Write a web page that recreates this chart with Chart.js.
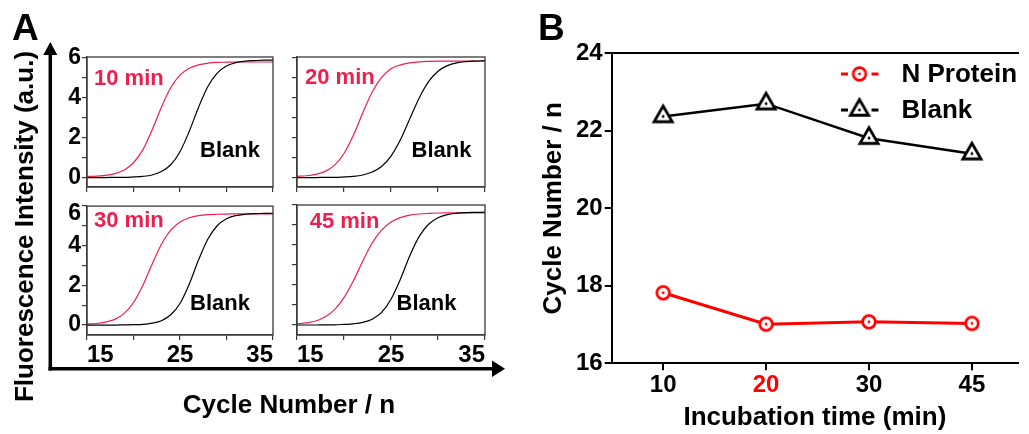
<!DOCTYPE html>
<html><head><meta charset="utf-8">
<script src="https://cdn.jsdelivr.net/npm/chart.js@4"></script>
<style>
html,body{margin:0;padding:0;background:#fff;overflow:hidden;width:1029px;height:434px;}
canvas{position:absolute;}
svg{position:absolute;left:0;top:0;}
svg text{font-family:'Liberation Sans',Arial,Helvetica,sans-serif;font-weight:bold;}
</style></head><body>
<canvas id="a1"></canvas>
<canvas id="a2"></canvas>
<canvas id="a3"></canvas>
<canvas id="a4"></canvas>
<canvas id="b"></canvas>
<svg width="1029" height="434" viewBox="0 0 1029 434">
  <line x1="50.3" y1="370.4" x2="50.3" y2="52" stroke="#000" stroke-width="3.5"/>
  <polygon points="50.3,42 43.3,55 57.3,55" fill="#000"/>
  <line x1="48.5" y1="368.7" x2="494" y2="368.7" stroke="#000" stroke-width="3.5"/>
  <polygon points="505,368.7 492,360.5 492,376.9" fill="#000"/>
  <text x="12" y="40" font-size="37">A</text>
  <text x="538" y="40" font-size="37">B</text>
  <text transform="translate(33.3,226.5) rotate(-90)" text-anchor="middle" font-size="26">Fluorescence Intensity (a.u.)</text>
  <text x="289" y="413" text-anchor="middle" font-size="26">Cycle Number / n</text>
  <text x="94" y="85" font-size="22" fill="#ee1f4f">10 min</text>
  <text x="200" y="157.3" font-size="22" fill="#000">Blank</text>
  <text x="305" y="84.3" font-size="22" fill="#ee1f4f">20 min</text>
  <text x="411.5" y="157.3" font-size="22" fill="#000">Blank</text>
  <text x="94" y="227" font-size="22" fill="#ee1f4f">30 min</text>
  <text x="190" y="309.7" font-size="22" fill="#000">Blank</text>
  <text x="309.7" y="228" font-size="22" fill="#ee1f4f">45 min</text>
  <text x="396.5" y="309.7" font-size="22" fill="#000">Blank</text>
</svg>
<script>
// ---------- Panel A data (fluorescence vs cycle) ----------
const cycles = [15,16,17,18,19,20,21,22,23,24,25,26,27,28,29,30,31,32,33,34,35];
const red10   = [0.05,0.07,0.11,0.20,0.38,0.74,1.38,2.37,3.51,4.48,5.11,5.45,5.62,5.70,5.74,5.75,5.76,5.76,5.76,5.76,5.76];
const blank10 = [0.00,0.00,0.00,0.01,0.01,0.03,0.06,0.13,0.30,0.64,1.29,2.31,3.51,4.54,5.21,5.56,5.73,5.80,5.83,5.85,5.85];
const red20   = [0.06,0.09,0.16,0.31,0.62,1.20,2.11,3.23,4.27,5.00,5.43,5.62,5.72,5.77,5.79,5.80,5.80,5.80,5.80,5.80,5.80];
const blank20 = [0.00,0.00,0.00,0.01,0.01,0.03,0.06,0.13,0.28,0.55,1.07,1.88,2.93,3.97,4.78,5.30,5.58,5.72,5.78,5.81,5.83];
const red30   = [0.05,0.08,0.15,0.29,0.59,1.14,2.00,3.07,4.08,4.79,5.20,5.41,5.52,5.57,5.59,5.60,5.61,5.61,5.61,5.61,5.61];
const blank30 = [0.00,0.00,0.00,0.00,0.01,0.02,0.04,0.10,0.22,0.52,1.09,2.07,3.29,4.34,5.01,5.36,5.52,5.59,5.62,5.63,5.64];
const red45   = [0.06,0.11,0.20,0.41,0.77,1.37,2.21,3.20,4.10,4.74,5.15,5.37,5.49,5.55,5.58,5.60,5.61,5.61,5.61,5.61,5.61];
const blank45 = [0.00,0.00,0.00,0.01,0.01,0.03,0.06,0.13,0.29,0.63,1.29,2.29,3.46,4.43,5.04,5.36,5.52,5.59,5.62,5.63,5.64];
const aYTicks = [0,1,2,3,4,5,6];
const aYTickLabels = ['0','2','4','6'];
const aXTicks = [15,20,25,30,35];
const aXTickLabels = ['15','25','35'];

// ---------- Panel B data ----------
const incubation = ['10','20','30','45'];
const nProtein = [17.82, 17.01, 17.07, 17.03];
const blankB   = [22.37, 22.70, 21.81, 21.41];
const bYTicks  = [16,18,20,22,24];

Chart.defaults.font.family = "'Liberation Sans', Arial, Helvetica, sans-serif";
Chart.defaults.font.weight = 'bold';
Chart.defaults.color = '#000';

const RED_A = '#ee1f4f';
const FRAME = '#3a3a3a';

const framePlugin = {
  id: 'frame',
  afterDraw(chart) {
    const {ctx, chartArea: a} = chart;
    ctx.save();
    ctx.strokeStyle = FRAME;
    ctx.lineWidth = 1.3;
    ctx.strokeRect(a.left, a.top, a.right - a.left, a.bottom - a.top);
    ctx.restore();
  }
};

function sub(id, rect, redVals, blankVals, showX, showY, yMin, yMax, lowTop) {
  const PL = 45, PT = 16, PR = 16, PB = 30;
  const cv = document.getElementById(id);
  const W = rect.r - rect.l + PL + PR, H = rect.b - rect.t + PT + PB;
  cv.width = W; cv.height = H;
  cv.style.left = (rect.l - PL) + 'px';
  cv.style.top = (rect.t - PT) + 'px';
  new Chart(cv, {
    type: 'line',
    data: {
      datasets: [
        {data: cycles.map((c, i) => ({x: c, y: blankVals[i]})), borderColor: '#000', borderWidth: 1.2, pointRadius: 0, cubicInterpolationMode: 'monotone'},
        {data: cycles.map((c, i) => ({x: c, y: redVals[i]})), borderColor: RED_A, borderWidth: 1.2, pointRadius: 0, cubicInterpolationMode: 'monotone'}
      ]
    },
    options: {
      responsive: false, animation: false, events: [],
      layout: {padding: {left: 0, top: PT, right: PR, bottom: 0}},
      plugins: {legend: {display: false}, tooltip: {enabled: false}},
      scales: {
        x: {
          type: 'linear', min: 15, max: 35,
          afterBuildTicks: s => { s.ticks = aXTicks.map(v => ({value: v})); },
          afterFit: s => { s.height = PB; },
          ticks: {autoSkip: false, maxRotation: 0, padding: 1, align: 'inner', font: {size: 24, weight: 'bold'}, color: '#000',
                  callback: v => (showX && aXTickLabels.includes(String(v))) ? String(v) : ''},
          grid: {drawOnChartArea: false, tickLength: 5, color: FRAME, lineWidth: 1.2},
          border: {color: FRAME, width: 1.3}
        },
        y: {
          type: 'linear', min: yMin, max: yMax,
          afterBuildTicks: s => { s.ticks = aYTicks.map(v => ({value: v})); },
          afterFit: s => { s.width = PL; },
          ticks: {autoSkip: false, padding: 1, font: {size: 23, weight: 'bold', lineHeight: 0.7}, color: '#000',
                  callback: v => {
                    if (!(showY && aYTickLabels.includes(String(v)))) return '';
                    return (lowTop && v === 6) ? ['', String(v)] : String(v);
                  }},
          grid: {drawOnChartArea: false, tickLength: 5, color: FRAME, lineWidth: 1.2},
          border: {color: FRAME, width: 1.3}
        }
      }
    },
    plugins: [framePlugin]
  });
}

sub('a1', {l: 87, r: 273, t: 57, b: 187}, red10, blank10, false, true, -0.47, 6.01, false);
sub('a2', {l: 297, r: 485, t: 57, b: 187}, red20, blank20, false, false, -0.47, 6.01, false);
sub('a3', {l: 87, r: 273, t: 205, b: 335}, red30, blank30, true, true, -0.5, 6.0, true);
sub('a4', {l: 297, r: 485, t: 205, b: 335}, red45, blank45, true, false, -0.5, 6.0, true);

// ---------- Panel B ----------
function circleMarker() {
  const c = document.createElement('canvas'); c.width = 20; c.height = 20;
  const g = c.getContext('2d');
  g.beginPath(); g.arc(10, 10, 6.3, 0, Math.PI * 2);
  g.fillStyle = '#fff'; g.fill();
  g.lineWidth = 2.7; g.strokeStyle = '#ff0000'; g.stroke();
  g.beginPath(); g.arc(10, 10, 1.4, 0, Math.PI * 2); g.fillStyle = '#ff0000'; g.fill();
  return c;
}
function triangleMarker() {
  const c = document.createElement('canvas'); c.width = 30; c.height = 30;
  const g = c.getContext('2d');
  const cx = 15, cy = 15, R = 10.5;
  g.beginPath();
  g.moveTo(cx, cy - R);
  g.lineTo(cx - R * Math.sin(Math.PI / 3), cy + R / 2);
  g.lineTo(cx + R * Math.sin(Math.PI / 3), cy + R / 2);
  g.closePath();
  g.fillStyle = '#fff'; g.fill();
  g.lineJoin = 'miter'; g.lineWidth = 2.8; g.strokeStyle = '#000'; g.stroke();
  g.beginPath(); g.arc(cx, cy, 1.4, 0, Math.PI * 2); g.fillStyle = '#000'; g.fill();
  return c;
}
const circImg = circleMarker();
const triImg = triangleMarker();

const bLegend = {
  id: 'bLegend',
  afterDraw(chart) {
    const ctx = chart.ctx;
    const rows = [{ds: 0, y: 74}, {ds: 1, y: 110}];
    const cx = 339.5, tx = 381.5;
    ctx.save();
    rows.forEach(r => {
      const d = chart.data.datasets[r.ds];
      ctx.strokeStyle = d.borderColor; ctx.lineWidth = 3;
      ctx.beginPath();
      ctx.moveTo(cx - 18.5, r.y); ctx.lineTo(cx - 11.5, r.y);
      ctx.moveTo(cx + 12, r.y); ctx.lineTo(cx + 19, r.y);
      ctx.stroke();
      const img = d.pointStyle;
      ctx.drawImage(img, cx - img.width / 2, r.y - img.height / 2);
      ctx.fillStyle = '#000';
      ctx.font = "bold 26px 'Liberation Sans', Arial, sans-serif";
      ctx.textBaseline = 'middle'; ctx.textAlign = 'left';
      ctx.fillText(d.label, tx, r.y + 1);
    });
    ctx.restore();
  }
};

const cb = document.getElementById('b');
cb.width = 509; cb.height = 434;
cb.style.left = '520px'; cb.style.top = '0px';
const XMAX = 3.448;
new Chart(cb, {
  type: 'line',
  data: {
    datasets: [
      {label: 'N Protein', data: nProtein.map((v, i) => ({x: i, y: v})), borderColor: '#ff0000', borderWidth: 3, pointStyle: circImg, pointRadius: 8},
      {label: 'Blank', data: blankB.map((v, i) => ({x: i, y: v})), borderColor: '#000', borderWidth: 2.5, pointStyle: triImg, pointRadius: 8}
    ]
  },
  options: {
    responsive: false, animation: false, events: [],
    layout: {padding: 0},
    plugins: {legend: {display: false}, tooltip: {enabled: false}},
    scales: {
      x: {
        type: 'linear', position: 'bottom', min: -0.5, max: XMAX,
        afterBuildTicks: s => { s.ticks = incubation.map((_, i) => ({value: i})); },
        afterFit: s => { s.height = 70.7; },
        ticks: {autoSkip: false, maxRotation: 0, padding: 1, font: {size: 24, weight: 'bold'},
                color: c => (c.index === 1 ? '#ff0000' : '#000'),
                callback: v => incubation[v]},
        grid: {drawOnChartArea: false, tickLength: 7, lineWidth: 2, color: '#000'},
        border: {color: '#000', width: 2},
        title: {display: true, text: 'Incubation time (min)', color: '#000', font: {size: 26, weight: 'bold'}, padding: {top: 0, bottom: 1}}
      },
      xTop: {
        type: 'linear', position: 'top', min: -0.5, max: XMAX,
        afterFit: s => { s.height = 53.3; },
        ticks: {display: false},
        grid: {drawOnChartArea: false, drawTicks: false},
        border: {color: '#000', width: 2}
      },
      y: {
        type: 'linear', min: 16, max: 24,
        afterBuildTicks: s => { s.ticks = bYTicks.map(v => ({value: v})); },
        afterFit: s => { s.width = 91.7; },
        ticks: {padding: 2, font: {size: 24, weight: 'bold'}, color: '#000'},
        grid: {drawOnChartArea: false, tickLength: 7, lineWidth: 2, color: '#000'},
        border: {color: '#000', width: 2},
        title: {display: true, text: 'Cycle Number / n', color: '#000', font: {size: 26, weight: 'bold'}, padding: {top: 18.5, bottom: 0}}
      }
    }
  },
  plugins: [bLegend]
});
</script>
</body></html>
